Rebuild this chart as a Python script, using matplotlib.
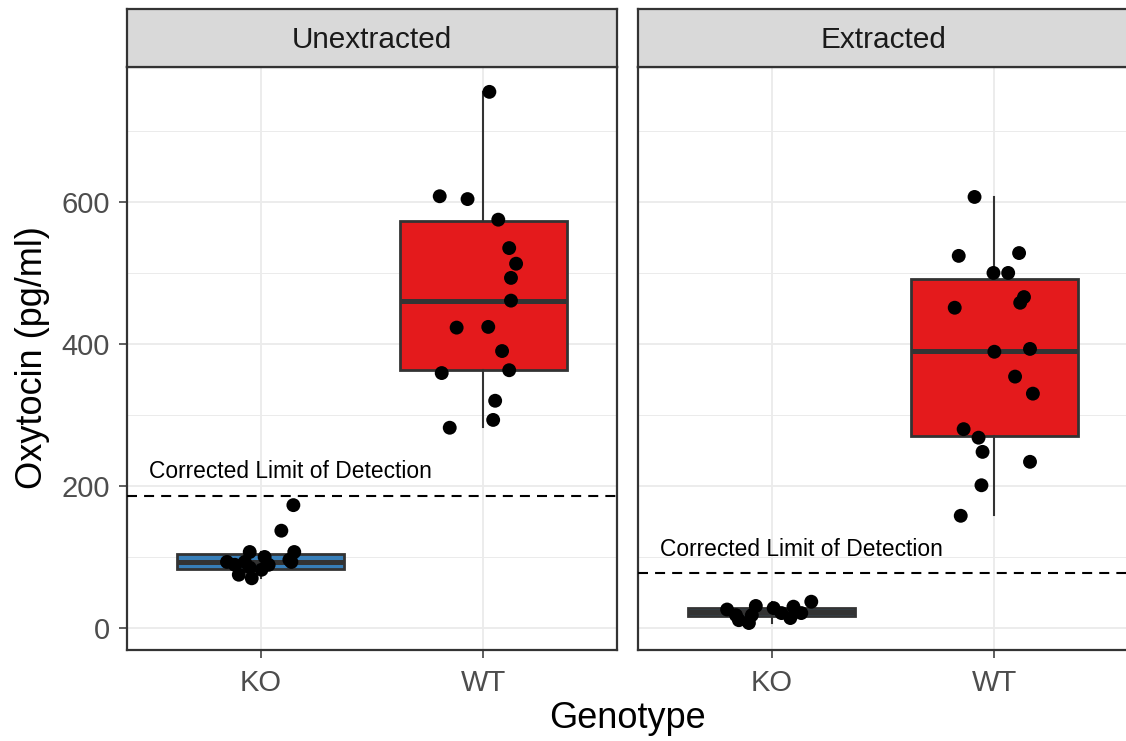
import matplotlib
matplotlib.use("Agg")
import matplotlib.pyplot as plt

plt.rcParams['font.family'] = ['Liberation Sans', 'DejaVu Sans']

# data
panels = ["Unextracted", "Extracted"]
genotypes = ["KO", "WT"]

# box statistics per panel: KO, WT
box_q1 = [[83, 363], [17, 270]]
box_med = [[93, 461], [22, 390]]
box_q3 = [[104, 573], [28, 491]]
box_lo = [[70, 283], [7, 159]]
box_hi = [[107, 755], [37, 607]]

# jittered points (x offset from category centre, value)
unext_ko_dx = [0.147, 0.093, -0.049, 0.151, 0.018, 0.129, -0.151, -0.116, 0.138, -0.071, 0.036, -0.049, -0.098, -0.04, 0.004]
unext_ko_y = [173, 137, 107, 107, 100, 96, 93, 89, 93, 93, 89, 85, 75, 70, 82]
unext_wt_dx = [0.027, -0.196, -0.071, 0.067, 0.116, 0.147, 0.124, 0.124, -0.12, 0.022, 0.084, 0.116, -0.187, 0.053, 0.044, -0.151]
unext_wt_y = [755, 608, 604, 575, 535, 513, 493, 461, 423, 424, 390, 363, 359, 320, 293, 282]
ext_ko_dx = [-0.2, -0.16, -0.147, -0.102, -0.071, 0.009, 0.044, 0.084, 0.098, 0.133, 0.178, -0.089]
ext_ko_y = [26, 18, 11, 7, 31, 28, 21, 14, 30, 21, 37, 18]
ext_wt_dx = [-0.089, -0.16, 0.111, -0.004, 0.062, 0.133, 0.116, -0.178, 0.0, 0.16, 0.093, 0.173, -0.138, -0.071, -0.053, 0.16, -0.058, -0.151]
ext_wt_y = [607, 524, 528, 500, 500, 466, 458, 451, 389, 393, 354, 330, 280, 268, 248, 234, 201, 158]

points_dx = [[unext_ko_dx, unext_wt_dx], [ext_ko_dx, ext_wt_dx]]
points_y = [[unext_ko_y, unext_wt_y], [ext_ko_y, ext_wt_y]]

lod = [186, 77]
lod_label = "Corrected Limit of Detection"
lod_label_y = [220, 111]

fills = ["#377EB8", "#E41A1C"]

W, H = 1126, 741
fig = plt.figure(figsize=(W / 100, H / 100), dpi=100)

panel_lefts = [127, 638]
panel_w = 490
panel_top, panel_bot = 67, 650
strip_top = 9

dark = "#333333"

for p in range(2):
    ax = fig.add_axes([panel_lefts[p] / W, (H - panel_bot) / H, panel_w / W, (panel_bot - panel_top) / H])
    ax.set_axisbelow(True)

    stats = []
    for g in range(2):
        stats.append(dict(q1=box_q1[p][g], med=box_med[p][g], q3=box_q3[p][g],
                          whislo=box_lo[p][g], whishi=box_hi[p][g], fliers=[]))
    bp = ax.bxp(stats, positions=[1, 2], widths=0.75, patch_artist=True,
                showcaps=False, showfliers=False, manage_ticks=False,
                boxprops=dict(edgecolor=dark, linewidth=2.0),
                medianprops=dict(color=dark, linewidth=3.6, solid_capstyle="butt"),
                whiskerprops=dict(color=dark, linewidth=1.5))
    for patch, c in zip(bp["boxes"], fills):
        patch.set_facecolor(c)

    ax.set_xlim(0.4, 2.6)
    ax.set_ylim(-31, 790)
    ax.set_yticks([0, 200, 400, 600])
    ax.set_yticks([100, 300, 500, 700], minor=True)
    ax.set_xticks([1, 2])
    ax.set_xticklabels(genotypes)
    ax.grid(which="major", color="#EBEBEB", lw=1.3)
    ax.grid(which="minor", axis="y", color="#EBEBEB", lw=0.7)
    ax.tick_params(which="minor", length=0)
    ax.tick_params(which="major", length=5.5, width=1.1, color=dark,
                   labelsize=21, labelcolor="#4D4D4D")
    ax.tick_params(axis="x", pad=8)
    ax.tick_params(axis="y", pad=7)
    if p == 1:
        ax.tick_params(axis="y", left=False, labelleft=False)
    for s in ax.spines.values():
        s.set_color(dark)
        s.set_linewidth(1.6)

    ax.axhline(lod[p], color="black", lw=1.5, dashes=(4.8, 3.4), zorder=4)
    ax.text(0.5, lod_label_y[p], lod_label, fontsize=16.4, color="black",
            ha="left", va="center", zorder=5)

    for g in range(2):
        xs = [g + 1 + d for d in points_dx[p][g]]
        ax.scatter(xs, points_y[p][g], s=100, color="black", edgecolors="none", zorder=6)

    # facet strip
    sx = fig.add_axes([panel_lefts[p] / W, (H - panel_top) / H, panel_w / W, (panel_top - strip_top) / H])
    sx.set_facecolor("#D9D9D9")
    sx.set_xticks([])
    sx.set_yticks([])
    for s in sx.spines.values():
        s.set_color(dark)
        s.set_linewidth(1.6)
    sx.text(0.5, 0.47, panels[p], transform=sx.transAxes, ha="center", va="center",
            fontsize=21.4, color="#1A1A1A")

fig.text(627 / W, 1 - 718 / H, "Genotype", ha="center", va="center", fontsize=26)
fig.text(33 / W, 1 - 358 / H, "Oxytocin (pg/ml)", ha="center", va="center",
         rotation=90, fontsize=26)

fig.savefig("out.png", dpi=100)
